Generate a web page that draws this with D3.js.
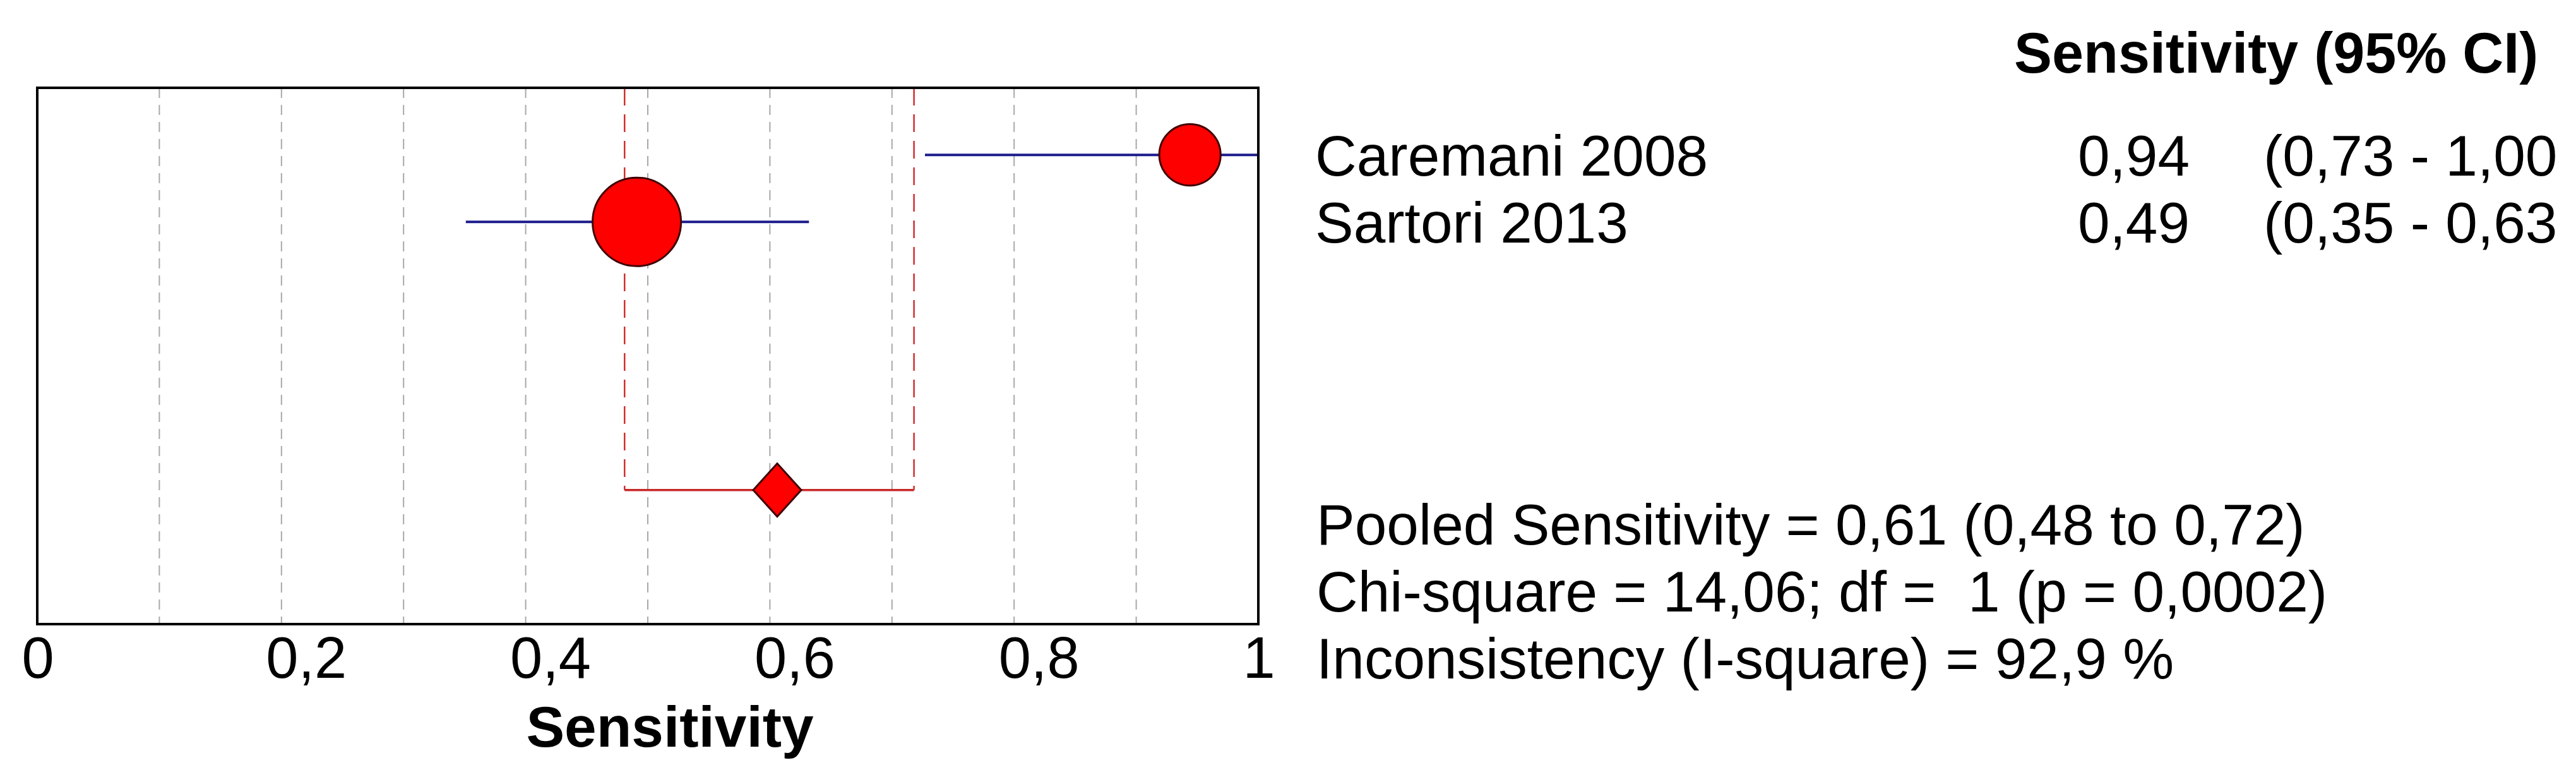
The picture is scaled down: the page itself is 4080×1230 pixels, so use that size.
<!DOCTYPE html>
<html>
<head>
<meta charset="utf-8">
<script src="https://cdn.jsdelivr.net/npm/d3@7"></script>
<style>
  body { margin: 0; background: #fff; }
  svg text { font-family: "Liberation Sans", Arial, sans-serif; fill: #000; white-space: pre; }
</style>
</head>
<body>
<svg id="chart"></svg>
<script>
// study data
const studies = ["Caremani 2008", "Sartori 2013"];
const sens = [0.944, 0.491];
const ciLow = [0.727, 0.351];
const ciHigh = [1.0, 0.632];
const weights = [32.5, 67.5];

// pooled estimate: value, low, high
const pooled = [0.606, 0.481, 0.718];
const chiSquare = 14.06;
const df = 1;
const pValue = 0.0002;
const iSquare = 92.9;

const xTicks = [0, 0.2, 0.4, 0.6, 0.8, 1];
const gridTicks = [0.1, 0.2, 0.3, 0.4, 0.5, 0.6, 0.7, 0.8, 0.9];

const width = 4080, height = 1230;

const svg = d3.select("#chart")
    .attr("width", width)
    .attr("height", height);

svg.append("rect").attr("width", width).attr("height", height).attr("fill", "#fff");

const x = d3.scaleLinear().domain([0, 1]).range([59, 1993]);
const y = d3.scaleLinear().domain([0, 8]).range([139, 988]);
const r = d3.scaleSqrt().domain([0, d3.max(weights)]).range([0, 70]);

const comma = s => s.replace(".", ",");
const f2 = v => comma(d3.format(".2f")(v));

// grey dashed grid
svg.append("g")
    .selectAll("line")
    .data(gridTicks)
    .enter().append("line")
    .attr("x1", d => x(d)).attr("x2", d => x(d))
    .attr("y1", y(0)).attr("y2", y(8))
    .attr("stroke", "#a8a8a8")
    .attr("stroke-width", 2)
    .attr("stroke-dasharray", "16,11");

// pooled CI: dashed red verticals + solid bar
const pooledRow = 6;
svg.append("g")
    .selectAll("line")
    .data([pooled[1], pooled[2]])
    .enter().append("line")
    .attr("x1", d => x(d)).attr("x2", d => x(d))
    .attr("y1", y(0)).attr("y2", y(pooledRow))
    .attr("stroke", "#d03030")
    .attr("stroke-width", 2.5)
    .attr("stroke-dasharray", "28,14");

svg.append("line")
    .attr("x1", x(pooled[1])).attr("x2", x(pooled[2]))
    .attr("y1", y(pooledRow)).attr("y2", y(pooledRow))
    .attr("stroke", "#c82828")
    .attr("stroke-width", 3.5);

// study CIs
const rows = studies.map((s, i) => ({name: s, est: sens[i], lo: ciLow[i], hi: ciHigh[i], w: weights[i], row: i + 1}));

svg.append("g")
    .selectAll("line")
    .data(rows)
    .enter().append("line")
    .attr("x1", d => x(d.lo)).attr("x2", d => x(d.hi))
    .attr("y1", d => y(d.row)).attr("y2", d => y(d.row))
    .attr("stroke", "#1c1c8c")
    .attr("stroke-width", 4);

svg.append("g")
    .selectAll("circle")
    .data(rows)
    .enter().append("circle")
    .attr("cx", d => x(d.est))
    .attr("cy", d => y(d.row))
    .attr("r", d => r(d.w))
    .attr("fill", "#ff0000")
    .attr("stroke", "#400000")
    .attr("stroke-width", 3);

// pooled diamond
const dx = 38, dy = 42;
const px = x(pooled[0]), py = y(pooledRow);
svg.append("path")
    .attr("d", `M${px - dx},${py}L${px},${py - dy}L${px + dx},${py}L${px},${py + dy}Z`)
    .attr("fill", "#ff0000")
    .attr("stroke", "#400000")
    .attr("stroke-width", 3);

// frame
svg.append("rect")
    .attr("x", x(0)).attr("y", y(0))
    .attr("width", x(1) - x(0)).attr("height", y(8) - y(0))
    .attr("fill", "none")
    .attr("stroke", "#000")
    .attr("stroke-width", 4);

// x axis
const axis = svg.append("g")
    .attr("transform", `translate(0,${y(8)})`)
    .call(d3.axisBottom(x).tickValues(xTicks).tickSize(0)
        .tickFormat(d => (d === 0 || d === 1) ? String(d) : comma(d3.format(".1f")(d))));
axis.select(".domain").remove();
axis.selectAll("text")
    .attr("y", 85).attr("dy", 0)
    .attr("x", -25)
    .attr("text-anchor", "start")
    .style("font-family", '"Liberation Sans", Arial, sans-serif')
    .style("font-size", "92px")
    .attr("fill", "#000");

svg.append("text")
    .attr("x", 1061).attr("y", 1182)
    .attr("text-anchor", "middle")
    .style("font-size", "91px").style("font-weight", "bold")
    .text("Sensitivity");

// right-hand table
svg.append("text")
    .attr("x", 3190).attr("y", 115)
    .style("font-size", "90px").style("font-weight", "bold")
    .text("Sensitivity (95% CI)");

const tbl = svg.append("g").style("font-size", "91px");
tbl.selectAll(".name")
    .data(rows).enter().append("text")
    .attr("class", "name")
    .attr("x", 2083).attr("y", d => y(d.row) + 33)
    .text(d => d.name);
tbl.selectAll(".est")
    .data(rows).enter().append("text")
    .attr("class", "est")
    .attr("x", 3468).attr("y", d => y(d.row) + 33)
    .attr("text-anchor", "end")
    .text(d => f2(d.est));
tbl.selectAll(".ci")
    .data(rows).enter().append("text")
    .attr("class", "ci")
    .attr("x", 3585).attr("y", d => y(d.row) + 33)
    .text(d => "(" + f2(d.lo) + " - " + f2(d.hi));

// pooled statistics
const stats = [
    "Pooled Sensitivity = " + f2(pooled[0]) + " (" + f2(pooled[1]) + " to " + f2(pooled[2]) + ")",
    "Chi-square = " + f2(chiSquare) + "; df =  " + df + " (p = " + comma(d3.format(".4f")(pValue)) + ")",
    "Inconsistency (I-square) = " + comma(d3.format(".1f")(iSquare)) + " %"
];
tbl.selectAll(".stat")
    .data(stats).enter().append("text")
    .attr("class", "stat")
    .attr("x", 2085).attr("y", (d, i) => y(6.5 + i) + 33)
    .text(d => d);
</script>
</body>
</html>
